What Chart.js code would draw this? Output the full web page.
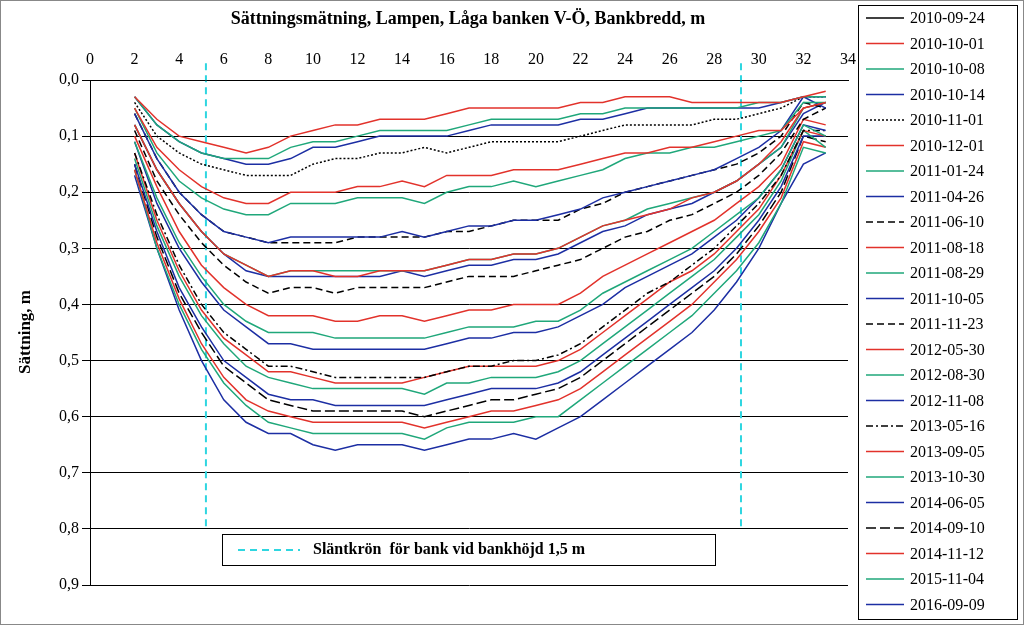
<!DOCTYPE html>
<html>
<head>
<meta charset="utf-8">
<script src="https://cdn.jsdelivr.net/npm/chart.js@4.4.0/dist/chart.umd.min.js"></script>
<style>
  body { margin: 0; background: #fff; }
  #wrap { width: 1024px; height: 625px; position: relative; }
</style>
</head>
<body>
<div id="wrap"><canvas id="chart" width="1024" height="625"></canvas></div>
<script>
// bankbredd, m
const positions = [2,3,4,5,6,7,8,9,10,11,12,13,14,15,16,17,18,19,20,21,22,23,24,25,26,27,28,29,30,31,32,33];
const xTicks = [0,2,4,6,8,10,12,14,16,18,20,22,24,26,28,30,32,34];
const yTicks = [0,0.1,0.2,0.3,0.4,0.5,0.6,0.7,0.8,0.9];

const dates = ['2010-09-24','2010-10-01','2010-10-08','2010-10-14','2010-11-01','2010-12-01','2011-01-24','2011-04-26',
  '2011-06-10','2011-08-18','2011-08-29','2011-10-05','2011-11-23','2012-05-30','2012-08-30','2012-11-08',
  '2013-05-16','2013-09-05','2013-10-30','2014-06-05','2014-09-10','2014-11-12','2015-11-04','2016-09-09'];

// sättning in cm
const settlementCm = [
  [0,0,0,0,0,0,0,0, 0,0,0,0,0,0,0,0, 0,0,0,0,0,0,0,0, 0,0,0,0,0,0,0,0],
  [3,7,10,11,12,13,12,10, 9,8,8,7,7,7,6,5, 5,5,5,5,4,4,3,3, 3,4,4,4,4,4,3,2],
  [3,8,11,13,14,14,14,12, 11,11,10,9,9,9,9,8, 7,7,7,7,6,6,5,5, 5,5,5,5,4,4,3,3],
  [3,8,11,13,14,15,15,14, 12,12,11,10,10,10,10,9, 8,8,8,8,7,7,6,5, 5,5,5,5,5,4,3,3],
  [4,10,13,15,16,17,17,17, 15,14,14,13,13,12,13,12, 11,11,11,11,10,9,8,8, 8,8,7,7,6,5,3,3],
  [5,12,16,19,21,22,22,20, 20,20,19,19,18,19,17,17, 17,16,16,16,15,14,13,13, 12,12,11,10,9,9,5,4],
  [5,13,18,21,23,24,24,22, 22,22,21,21,21,22,20,19, 19,18,19,18,17,16,14,13, 13,12,12,11,10,9,4,4],
  [6,14,20,24,27,28,29,28, 28,28,28,28,27,28,27,26, 26,25,25,24,23,21,20,19, 18,17,16,14,12,9,3,5],
  [6,14,20,24,27,28,29,29, 29,29,28,28,28,28,27,27, 26,25,25,25,23,22,20,19, 18,17,16,15,13,10,4,5],
  [8,16,22,27,31,33,35,34, 34,35,35,34,34,34,33,32, 32,31,31,30,28,26,25,24, 23,21,20,18,15,11,5,4],
  [8,16,22,27,31,33,35,34, 34,34,34,34,34,34,33,32, 32,31,31,30,28,26,25,23, 22,21,20,18,15,12,5,4],
  [8,16,22,27,31,34,35,35, 35,35,35,35,34,35,34,33, 33,32,32,31,29,27,26,24, 23,22,20,18,15,12,6,4],
  [9,18,24,29,33,36,38,37, 37,38,37,37,37,37,36,35, 35,35,34,33,32,30,28,27, 25,24,22,20,17,13,7,5],
  [10,19,27,33,37,40,42,42, 42,43,43,42,42,43,42,41, 41,40,40,40,38,35,33,31, 29,27,25,22,19,15,7,8],
  [11,21,29,35,40,43,45,45, 45,46,46,46,46,46,45,44, 44,44,43,43,41,38,36,34, 32,30,27,24,21,16,8,10],
  [11,22,30,36,41,44,47,47, 48,48,48,48,48,48,47,46, 46,45,45,44,42,40,37,35, 33,31,28,25,21,16,8,9],
  [13,24,33,40,45,48,51,51, 52,53,53,53,53,53,52,51, 51,50,50,49,47,44,41,38, 36,33,30,26,22,17,9,9],
  [13,25,34,41,46,49,52,52, 53,54,54,54,54,53,52,51, 51,51,51,50,48,45,42,39, 36,34,31,27,23,17,9,10],
  [14,26,35,42,47,51,53,54, 55,55,55,55,55,56,54,54, 53,53,53,52,50,47,44,41, 38,35,32,28,24,18,9,12],
  [15,27,37,44,50,53,56,57, 57,58,58,58,58,58,57,56, 55,55,55,54,52,49,46,43, 40,37,34,30,25,19,10,10],
  [15,28,38,45,51,54,57,58, 59,59,59,59,59,60,59,58, 57,57,56,55,53,50,47,44, 41,38,35,31,26,20,10,11],
  [16,29,39,47,53,57,59,60, 61,61,61,61,61,62,61,60, 59,59,58,57,55,52,49,46, 43,40,36,32,27,21,11,12],
  [16,30,40,48,54,58,61,62, 63,63,63,63,63,64,62,61, 61,61,60,60,57,54,51,48, 45,42,38,34,29,22,12,13],
  [17,30,41,50,57,61,63,63, 65,66,65,65,65,66,65,64, 64,63,64,62,60,57,54,51, 48,45,41,36,30,22,15,13]
];

// slantkrön markers
const crestX = [5.2, 29.2];
const crestY = [-0.03, 0.8];

const RED = '#e2322b', GREEN = '#1fa77a', BLUE = '#1c2ea3', BLACK = '#000000', CYAN = '#2fd6e0';
const colorCycle = [RED, GREEN, BLUE];
const styleFor = {
  '2010-09-24': { color: BLACK, dash: [] },
  '2010-11-01': { color: BLACK, dash: [2, 2] },
  '2011-06-10': { color: BLACK, dash: [7, 4] },
  '2011-11-23': { color: BLACK, dash: [7, 4] },
  '2013-05-16': { color: BLACK, dash: [7, 3, 2, 3] },
  '2014-09-10': { color: BLACK, dash: [10, 4] }
};

let c = 0;
const datasets = dates.map((d, i) => {
  let st = styleFor[d];
  if (!st) { st = { color: colorCycle[c % 3], dash: [] }; c++; }
  return {
    label: d,
    data: positions.map((x, j) => ({ x: x, y: settlementCm[i][j] / 100 })),
    borderColor: st.color,
    borderDash: st.dash,
    borderWidth: 1.5,
    pointRadius: 0,
    fill: false
  };
});
crestX.forEach(x => {
  datasets.push({
    label: 'crest',
    data: crestY.map(y => ({ x: x, y: y })),
    borderColor: CYAN,
    borderDash: [7, 5],
    borderWidth: 2,
    pointRadius: 0,
    clip: false
  });
});

const extras = {
  id: 'extras',
  afterDraw(chart) {
    const ctx = chart.ctx;
    ctx.save();
    // outer frame
    ctx.strokeStyle = '#888'; ctx.lineWidth = 1;
    ctx.strokeRect(0.5, 0.5, 1023, 624);
    // title
    ctx.fillStyle = '#000';
    ctx.font = 'bold 18px "Liberation Serif"';
    ctx.textAlign = 'center'; ctx.textBaseline = 'middle';
    ctx.fillText('Sättningsmätning, Lampen, Låga banken V-Ö, Bankbredd, m', 468, 19);
    // y title
    ctx.save();
    ctx.translate(26, 332); ctx.rotate(-Math.PI / 2);
    ctx.font = 'bold 17px "Liberation Serif"';
    ctx.fillText('Sättning, m', 0, 0);
    ctx.restore();
    // crest legend box
    ctx.fillStyle = '#fff';
    ctx.fillRect(222, 534, 494, 32);
    ctx.strokeStyle = '#000'; ctx.lineWidth = 1;
    ctx.strokeRect(222.5, 534.5, 493, 31);
    ctx.strokeStyle = CYAN; ctx.lineWidth = 2; ctx.setLineDash([7, 5]);
    ctx.beginPath(); ctx.moveTo(238, 550); ctx.lineTo(300, 550); ctx.stroke();
    ctx.setLineDash([]);
    ctx.fillStyle = '#000'; ctx.textAlign = 'left';
    ctx.font = 'bold 16px "Liberation Serif"';
    ctx.fillText('Släntkrön  för bank vid bankhöjd 1,5 m', 313, 550);
    // series legend
    ctx.fillStyle = '#fff';
    ctx.fillRect(858, 5, 160, 615);
    ctx.strokeStyle = '#000'; ctx.lineWidth = 1;
    ctx.strokeRect(858.5, 5.5, 159, 614);
    ctx.font = '16px "Liberation Serif"';
    dates.forEach((d, i) => {
      const ds = chart.data.datasets[i];
      const y = 18 + i * 25.5;
      ctx.strokeStyle = ds.borderColor; ctx.lineWidth = 1.5;
      ctx.setLineDash(ds.borderDash);
      ctx.beginPath(); ctx.moveTo(866, y); ctx.lineTo(904, y); ctx.stroke();
      ctx.setLineDash([]);
      ctx.fillStyle = '#000';
      ctx.fillText(d, 910, y + 1);
    });
    ctx.restore();
  }
};

new Chart(document.getElementById('chart').getContext('2d'), {
  type: 'line',
  data: { datasets: datasets },
  options: {
    responsive: false,
    animation: false,
    layout: { padding: { left: 0, top: 0, right: 176, bottom: 40 } },
    plugins: { legend: { display: false }, tooltip: { enabled: false } },
    scales: {
      x: {
        type: 'linear', position: 'top', min: 0, max: 34,
        afterFit: s => { s.height = 80; },
        afterBuildTicks: s => { s.ticks = xTicks.map(v => ({ value: v })); },
        ticks: { color: '#000', font: { family: 'Liberation Serif', size: 16 }, maxRotation: 0 },
        grid: { display: false, drawTicks: true },
        border: { color: '#000' }
      },
      y: {
        type: 'linear', reverse: true, min: 0, max: 0.9,
        afterFit: s => { s.width = 90; },
        afterBuildTicks: s => { s.ticks = yTicks.map(v => ({ value: v })); },
        ticks: {
          color: '#000', font: { family: 'Liberation Serif', size: 16 },
          callback: v => v.toFixed(1).replace('.', ',')
        },
        grid: { color: '#000', lineWidth: 1, drawTicks: true },
        border: { color: '#000' }
      }
    }
  },
  plugins: [extras]
});
</script>
</body>
</html>
